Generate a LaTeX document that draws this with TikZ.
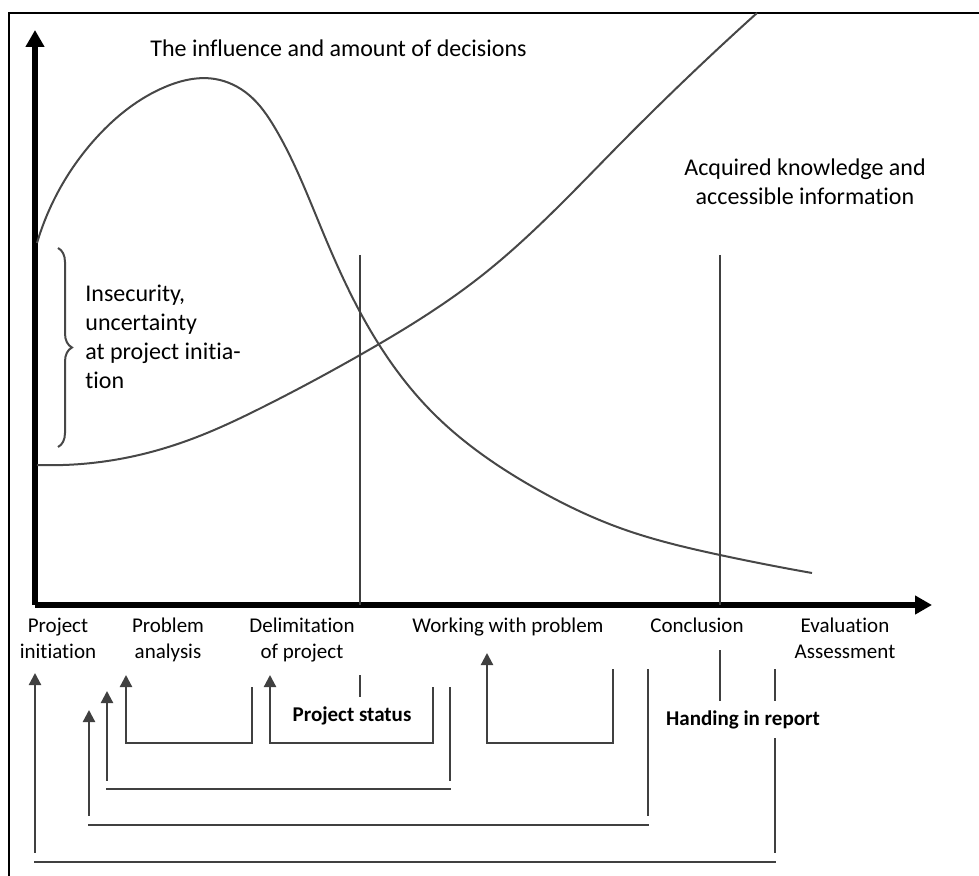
\documentclass[tikz,border=0pt]{standalone}
\usepackage{fontspec}
\setmainfont[Ligatures=NoCommon]{Carlito}
\usetikzlibrary{arrows.meta, decorations.pathreplacing, hobby}

\begin{document}
\begin{tikzpicture}[x=0.5pt, y=-0.5pt, use Hobby shortcut,
		axis/.style={line width=3pt, -{Triangle[length=8.5pt, width=9pt]}},
		curve/.style={line width=1pt, draw=black!72},
		marker/.style={line width=1.2pt, draw=black!75},
		bracket/.style={line width=1.1pt, draw=black!75, line cap=rect},
		phase/.style={anchor=north, inner sep=0pt, align=center, font=\fontsize{10.5}{13}\selectfont},
		big/.style={inner sep=0pt, font=\fontsize{12}{14.5}\selectfont},
		status/.style={anchor=base, inner sep=0pt, font=\fontsize{10.5}{13}\selectfont\bfseries}]
		
		%frame of the picture
		\useasboundingbox (0,0) rectangle (979,876);
		\draw [line width=1.3pt] (9,876) -- (9,13) -- (979,13);
		
		%definition of origin
		\coordinate (O) at (35,605);
		
		%definition of end points of axes
		\def\xMAX{932};
		\def\yMAX{30};
		
		%axes
		\draw [axis] (O) -- (\xMAX,605);
		\draw [axis] (O) -- (35,\yMAX);
		
		%influence and amount of decisions
		\draw [curve] (37,243) .. (97,137) .. (165,87) .. (215,79) .. (249,95) .. (275,128) .. (322,230) .. (360,312) .. (433,413) .. (533,487) .. (620,528) .. (720,555) .. (812,573);
		
		%acquired knowledge
		\draw [curve] (37,465) .. (130,457) .. (197,437) .. (263,407) .. (360,355) .. (480,277) .. (620,144) .. (757,13);
		
		%milestones
		\draw [marker] (360,255) -- (360,605);
		\draw [marker] (360,675) -- (360,697);
		\draw [marker] (720,255) -- (720,605);
		\draw [marker] (720,650) -- (720,702);
		
		%insecurity at the start
		\draw [curve, decorate, decoration={brace, amplitude=7pt}] (58,248) -- (58,447);
		\node [big, anchor=north west, align=left] (insecurity) at (85,285) {Insecurity,\\uncertainty\\at project initia-\\tion};
		
		\node [big, anchor=base west] (decisions) at (150,57) {The influence and amount of decisions};
		\node [big, anchor=north, align=center] (knowledge) at (805,158) {Acquired knowledge and\\accessible information};
		
		%phases along the time axis
		\node [phase] (initiation) at (58,618) {Project\\initiation};
		\node [phase] (analysis) at (168,618) {Problem\\analysis};
		\node [phase] (delimitation) at (302,618) {Delimitation\\of project};
		\node [phase] (working) at (508,618) {Working with problem};
		\node [phase] (conclusion) at (697,618) {Conclusion};
		\node [phase] (evaluation) at (845,618) {Evaluation\\Assessment};
		
		%feedback loops: left x / right x / tip / right top / bottom / gap
		\foreach \lx/\rx/\tip/\rtop/\bot/\gap in {126/252/675/688/743/0, 270/433/675/688/743/0, 487/613/653/670/743/0, 107/450/691/688/789/9, 89/648/710/670/825/10, 35/775/673/670/862/10}
		{
			\draw [bracket] (\rx,\rtop) -- (\rx,\bot-\gap);
			\draw [bracket] (\rx,\bot) -- (\lx,\bot);
			\draw [bracket, -{Triangle[length=6pt, width=6pt]}] (\lx,\bot-\gap) -- (\lx,\tip);
		}
		
		\node [status] (project status) at (352,721) {Project status};
		\node [status, fill=white, inner xsep=1pt, inner ysep=4.5pt] (report) at (743,725) {Handing in report};
	\end{tikzpicture}
\end{document}
